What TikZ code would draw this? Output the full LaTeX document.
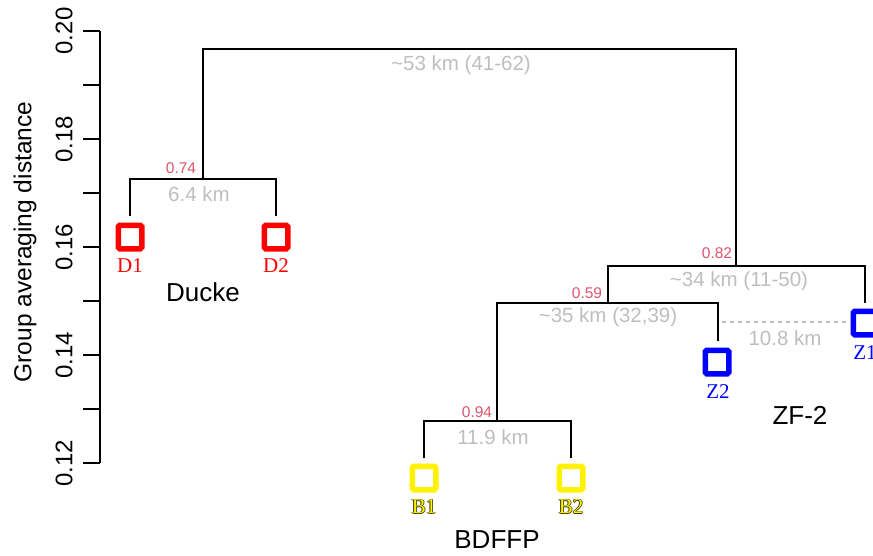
\documentclass[tikz,border=0pt]{standalone}
\usepackage{fontspec}
\setmainfont{Liberation Sans}
\newfontfamily\tmsfont{Liberation Serif}
\definecolor{rlab}{HTML}{DF536B}
\definecolor{glab}{HTML}{BEBEBE}
\definecolor{boutline}{HTML}{3A3A00}
\begin{document}
\begin{tikzpicture}[x=1pt,y=-1pt,
  every node/.style={inner sep=0pt,outer sep=0pt},
  dend/.style={line width=1.4pt,black},
  leafbox/.style={draw=#1,line width=5.5pt,minimum size=23.5pt,rounded corners=1.5pt},
  pval/.style={text=rlab,font=\fontsize{15.5}{15.5}\selectfont},
  dist/.style={text=glab,font=\fontsize{20.5}{20.5}\selectfont},
  leaflab/.style={text=#1,font=\tmsfont\fontsize{21}{21}\selectfont},
  grouplab/.style={font=\fontsize{26}{26}\selectfont},
  ticklab/.style={rotate=90,font=\fontsize{24}{24}\selectfont},
  axline/.style={line width=1.4pt,black}]
\useasboundingbox (0,0) rectangle (873,555);

% axis
\draw[axline] (100,31) -- (100,463);
\foreach \yy in {31,85,139,193,247,301,355,409,463}
  \draw[axline] (83,\yy) -- (100,\yy);
\node[ticklab] (t20) at (64,31) {0.20};
\node[ticklab] (t18) at (64,139) {0.18};
\node[ticklab] (t16) at (64,247) {0.16};
\node[ticklab] (t14) at (64,355) {0.14};
\node[ticklab] (t12) at (64,463) {0.12};
\node[rotate=90,font=\fontsize{24.5}{24.5}\selectfont] (ytitle) at (25,242) {Group averaging distance};

% leaf boxes
\node[leafbox=red] (D1) at (130,237) {};
\node[leafbox=red] (D2) at (276,237) {};
\node[leafbox=yellow] (B1) at (424,478) {};
\node[leafbox=yellow] (B2) at (571,478) {};
\node[leafbox=blue] (Z2) at (717,362) {};
\node[leafbox=blue] (Z1) at (865,323) {};

% stub tops and junctions
\coordinate (D1t) at (130,216);
\coordinate (D2t) at (276,216);
\coordinate (B1t) at (424,458);
\coordinate (B2t) at (571,458);
\coordinate (Z2t) at (718,341);
\coordinate (Z1t) at (865,303);
\coordinate (jD) at (203,179);
\coordinate (jB) at (497,421);
\coordinate (jBZ) at (608,303);
\coordinate (jBZZ) at (736,266);
\coordinate (jR) at (470,49);

% dendrogram
\draw[dend] (D1t) |- (jD) -| (D2t);
\draw[dend] (B1t) |- (jB) -| (B2t);
\draw[dend] (jB) |- (jBZ) -| (Z2t);
\draw[dend] (jBZ) |- (jBZZ) -| (Z1t);
\draw[dend] (jD) |- (jR) -| (jBZZ);

% dashed Z2-Z1 distance
\coordinate (dzA) at (722,322);
\coordinate (dzB) at (847,322);
\draw[glab,line width=1.8pt,dash pattern=on 4pt off 4pt] (dzA) -- (dzB);

% support values
\node[pval] (p74) at (181,168) {0.74};
\node[pval] (p82) at (717,253) {0.82};
\node[pval] (p59) at (587,293) {0.59};
\node[pval] (p94) at (477,412) {0.94};

% distances
\node[dist] (k53) at (461,65) {\textasciitilde53 km (41-62)};
\node[dist] (k64) at (199,194) {6.4 km};
\node[dist] (k34) at (739,281) {\textasciitilde34 km (11-50)};
\node[dist] (k35) at (608,317) {\textasciitilde35 km (32,39)};
\node[dist] (k119) at (493,437) {11.9 km};
\node[dist] (k108) at (785,338) {10.8 km};

% leaf labels
\node[leaflab=red] (D1l) at (130,266) {D1};
\node[leaflab=red] (D2l) at (276,266) {D2};
\node[leaflab=blue] (Z2l) at (718,392) {Z2};
\node[leaflab=blue] (Z1l) at (865,353) {Z1};
\foreach \dx/\dy [count=\i] in {-0.8/0,0.8/0,0/-0.8,0/0.8} {
  \node[leaflab=boutline] (B1s\i) at (424+\dx,507+\dy) {B1};
  \node[leaflab=boutline] (B2s\i) at (571+\dx,507+\dy) {B2};
}
\node[leaflab=yellow] (B1l) at (424,507) {B1};
\node[leaflab=yellow] (B2l) at (571,507) {B2};

% group labels
\node[grouplab] (ducke) at (203,292) {Ducke};
\node[grouplab] (zf2) at (800,415) {ZF-2};
\node[grouplab] (bdffp) at (497,540) {BDFFP};
\end{tikzpicture}
\end{document}
